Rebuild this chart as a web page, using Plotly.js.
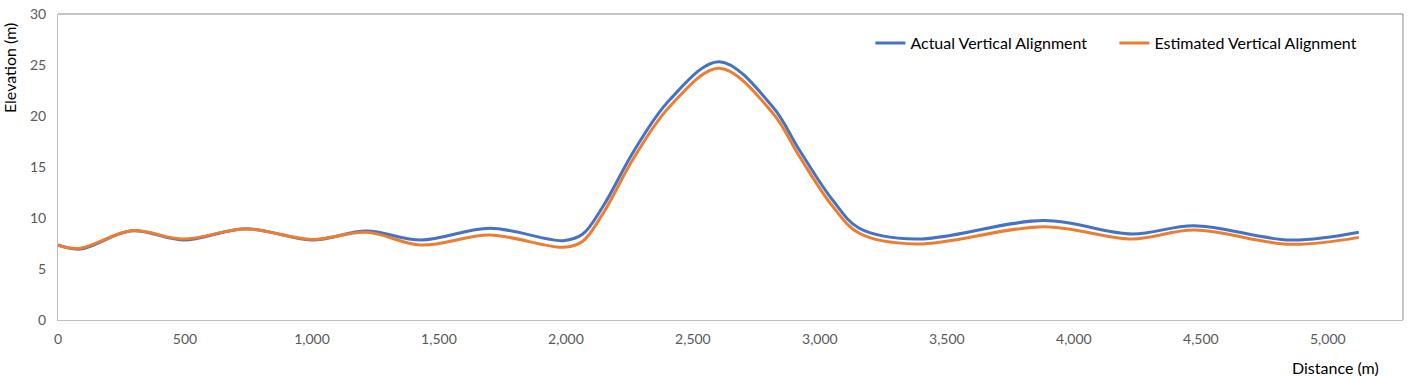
<!DOCTYPE html>
<html>
<head>
<meta charset="utf-8">
<script src="https://cdn.plot.ly/plotly-3.0.1.min.js"></script>
<style>
  html, body { margin: 0; padding: 0; background: #ffffff; }
  #chart { width: 1412px; height: 376px; }
</style>
</head>
<body>
<div id="chart"></div>
<script>
// Distance along alignment (m)
const distance = [0, 87, 290, 493, 742, 1000, 1214, 1430, 1700, 1990, 2065, 2145, 2270, 2408, 2604, 2814, 2919, 3050, 3155, 3378, 3883, 4229, 4473, 4853, 5122];
// Elevations (m)
const actualElevation = [7.35, 6.95, 8.75, 7.85, 8.95, 7.85, 8.72, 7.84, 9.0, 7.78, 8.4, 11.1, 16.67, 21.57, 25.33, 20.9, 16.67, 11.76, 9.0, 7.94, 9.75, 8.43, 9.25, 7.84, 8.6];
const estimatedElevation = [7.3, 7.03, 8.76, 7.94, 8.92, 7.9, 8.6, 7.35, 8.33, 7.13, 7.7, 10.4, 16.0, 20.9, 24.68, 20.3, 16.05, 11.15, 8.5, 7.45, 9.15, 7.94, 8.82, 7.42, 8.1];
const seriesNames = ["Actual Vertical Alignment", "Estimated Vertical Alignment"];
const xTicks = [0, 500, 1000, 1500, 2000, 2500, 3000, 3500, 4000, 4500, 5000];
const yTicks = [0, 5, 10, 15, 20, 25, 30];

const FONT = "Lato, 'Open Sans', sans-serif";

const traces = [
  {
    x: distance, y: actualElevation, name: seriesNames[0],
    type: "scatter", mode: "lines",
    line: { color: "#4472C4", width: 3, shape: "spline", smoothing: 1 }
  },
  {
    x: distance, y: estimatedElevation, name: seriesNames[1],
    type: "scatter", mode: "lines",
    line: { color: "#ED7D31", width: 3, shape: "spline", smoothing: 1 }
  }
];

const layout = {
  width: 1412, height: 376,
  margin: { l: 58, r: 9, t: 14, b: 56 },
  paper_bgcolor: "#ffffff", plot_bgcolor: "#ffffff",
  font: { family: FONT, size: 14, color: "#595959" },
  showlegend: true,
  legend: {
    orientation: "h", x: 0.604, y: 0.905, xanchor: "left", yanchor: "middle",
    font: { family: FONT, size: 16, color: "#000000" },
    bgcolor: "rgba(0,0,0,0)", entrywidth: 199, entrywidthmode: "pixels",
    itemwidth: 30
  },
  xaxis: {
    range: [0, 5296], tickvals: xTicks, ticktext: xTicks.map(v => v.toLocaleString("en-US")),
    showgrid: false, zeroline: false, showline: true, linecolor: "#bfbfbf", linewidth: 1,
    ticks: "", tickfont: { family: FONT, size: 14, color: "#595959" }, ticklabelstandoff: 6
  },
  yaxis: {
    range: [0, 30], tickvals: yTicks,
    showgrid: false, zeroline: false, showline: true, linecolor: "#bfbfbf", linewidth: 1,
    ticks: "", tickfont: { family: FONT, size: 14, color: "#595959" }, ticklabelstandoff: 8
  },
  shapes: [
    { type: "line", xref: "paper", yref: "paper", x0: 0, x1: 1, y0: 1, y1: 1, line: { color: "#8c8c8c", width: 1 } },
    { type: "line", xref: "paper", yref: "paper", x0: 1, x1: 1, y0: 0, y1: 1, line: { color: "#8c8c8c", width: 1 } }
  ],
  annotations: [
    { text: "Elevation (m)", xref: "paper", yref: "paper", x: -0.0365, y: 0.823, textangle: -90,
      showarrow: false, xanchor: "center", yanchor: "middle", font: { family: FONT, size: 16, color: "#000000" } },
    { text: "Distance (m)", xref: "paper", yref: "paper", x: 0.9835, y: -0.155, showarrow: false,
      xanchor: "right", yanchor: "middle", font: { family: FONT, size: 16, color: "#000000" } }
  ]
};

Plotly.newPlot("chart", traces, layout, { displayModeBar: false, staticPlot: true });
</script>
</body>
</html>
